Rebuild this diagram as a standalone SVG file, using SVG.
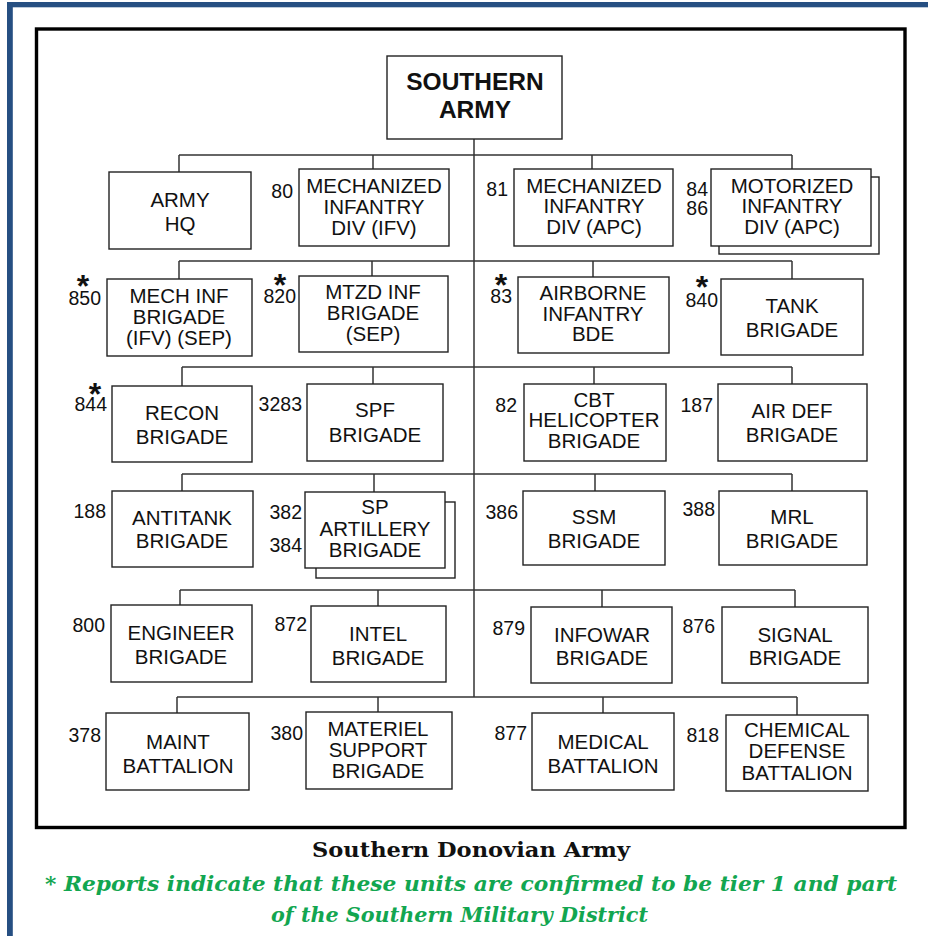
<svg xmlns="http://www.w3.org/2000/svg" width="928" height="936" viewBox="0 0 928 936">
<style>
.box{fill:#fff;stroke:#222;stroke-width:1.4}
.t{font-family:"Liberation Sans",Arial,sans-serif;font-size:20.5px;fill:#111;text-anchor:middle}
.n{font-family:"Liberation Sans",Arial,sans-serif;font-size:19.5px;fill:#111;text-anchor:end}
.s{font-family:"Liberation Sans",Arial,sans-serif;font-size:32px;font-weight:bold;fill:#111;text-anchor:middle}
.c line{stroke:#333;stroke-width:1.5}
</style>
<rect x="0" y="0" width="928" height="936" fill="#fff"/>
<rect x="7" y="2" width="921" height="5.3" fill="#264f82"/>
<rect x="7" y="2" width="5.8" height="934" fill="#264f82"/>
<rect x="36.5" y="29" width="868.5" height="798.5" fill="none" stroke="#000" stroke-width="3.4"/>

<g id="connectors" class="c">
<line x1="474" y1="139" x2="474" y2="697"/>
<line x1="179" y1="155" x2="792" y2="155"/>
<line x1="179" y1="155" x2="179" y2="172"/><line x1="373" y1="155" x2="373" y2="169"/><line x1="592" y1="155" x2="592" y2="169"/><line x1="792" y1="155" x2="792" y2="169"/>
<line x1="179" y1="261" x2="792" y2="261"/>
<line x1="179" y1="261" x2="179" y2="279"/><line x1="372" y1="261" x2="372" y2="276"/><line x1="593" y1="261" x2="593" y2="277"/><line x1="792" y1="261" x2="792" y2="279"/>
<line x1="182" y1="367" x2="792" y2="367"/>
<line x1="182" y1="367" x2="182" y2="386"/><line x1="373" y1="367" x2="373" y2="384"/><line x1="594" y1="367" x2="594" y2="384"/><line x1="792" y1="367" x2="792" y2="384"/>
<line x1="182" y1="474" x2="792" y2="474"/>
<line x1="182" y1="474" x2="182" y2="491"/><line x1="374" y1="474" x2="374" y2="492"/><line x1="595" y1="474" x2="595" y2="491"/><line x1="792" y1="474" x2="792" y2="491"/>
<line x1="180" y1="590" x2="795" y2="590"/>
<line x1="180" y1="590" x2="180" y2="605"/><line x1="378" y1="590" x2="378" y2="606"/><line x1="602" y1="590" x2="602" y2="607"/><line x1="795" y1="590" x2="795" y2="607"/>
<line x1="177" y1="697" x2="797" y2="697"/>
<line x1="177" y1="697" x2="177" y2="713"/><line x1="378" y1="697" x2="378" y2="712"/><line x1="603" y1="697" x2="603" y2="713"/><line x1="797" y1="697" x2="797" y2="715"/>
</g>

<g id="southern-army">
<rect class="box" x="387" y="56" width="175" height="83"/>
<text class="t" x="475" y="90" style="font-weight:bold;font-size:24.5px">SOUTHERN</text>
<text class="t" x="475" y="118" style="font-weight:bold;font-size:24.5px">ARMY</text>
</g>

<g id="army-hq">
<rect class="box" x="109" y="172" width="142" height="77"/>
<text class="t" x="180" y="207">ARMY</text><text class="t" x="180" y="231">HQ</text>
</g>
<g id="mech-inf-div-ifv">
<text class="n" x="293" y="198">80</text>
<rect class="box" x="299" y="169" width="150" height="77"/>
<text class="t" x="374" y="193">MECHANIZED</text><text class="t" x="374" y="214">INFANTRY</text><text class="t" x="374" y="235">DIV (IFV)</text>
</g>
<g id="mech-inf-div-apc">
<text class="n" x="508" y="196">81</text>
<rect class="box" x="514" y="169" width="159" height="77"/>
<text class="t" x="594" y="193">MECHANIZED</text><text class="t" x="594" y="213">INFANTRY</text><text class="t" x="594" y="234">DIV (APC)</text>
</g>
<g id="mot-inf-div-apc">
<text class="n" x="708" y="196">84</text><text class="n" x="708" y="215">86</text>
<rect class="box" x="719" y="177" width="160" height="77"/>
<rect class="box" x="711" y="169" width="160" height="77"/>
<text class="t" x="792" y="193">MOTORIZED</text><text class="t" x="792" y="213">INFANTRY</text><text class="t" x="792" y="234">DIV (APC)</text>
</g>

<g id="mech-inf-bde">
<text class="s" x="83" y="297">*</text>
<text class="n" x="101" y="305">850</text>
<rect class="box" x="107" y="279" width="145" height="77"/>
<text class="t" x="179" y="303">MECH INF</text><text class="t" x="179" y="324">BRIGADE</text><text class="t" x="179" y="345">(IFV) (SEP)</text>
</g>
<g id="mtzd-inf-bde">
<text class="s" x="280" y="296">*</text>
<text class="n" x="296" y="303">820</text>
<rect class="box" x="299" y="276" width="149" height="76"/>
<text class="t" x="373" y="299">MTZD INF</text><text class="t" x="373" y="320">BRIGADE</text><text class="t" x="373" y="341">(SEP)</text>
</g>
<g id="airborne-bde">
<text class="s" x="501" y="296">*</text>
<text class="n" x="512" y="303">83</text>
<rect class="box" x="518" y="277" width="151" height="76"/>
<text class="t" x="593" y="300">AIRBORNE</text><text class="t" x="593" y="321">INFANTRY</text><text class="t" x="593" y="341">BDE</text>
</g>
<g id="tank-bde">
<text class="s" x="702" y="298">*</text>
<text class="n" x="718" y="307">840</text>
<rect class="box" x="721" y="279" width="142" height="76"/>
<text class="t" x="792" y="313">TANK</text><text class="t" x="792" y="337">BRIGADE</text>
</g>

<g id="recon-bde">
<text class="s" x="95" y="405">*</text>
<text class="n" x="107" y="411">844</text>
<rect class="box" x="112" y="386" width="140" height="76"/>
<text class="t" x="182" y="420">RECON</text><text class="t" x="182" y="444">BRIGADE</text>
</g>
<g id="spf-bde">
<text class="n" x="302" y="411">3283</text>
<rect class="box" x="307" y="384" width="136" height="77"/>
<text class="t" x="375" y="417">SPF</text><text class="t" x="375" y="442">BRIGADE</text>
</g>
<g id="cbt-heli-bde">
<text class="n" x="517" y="412">82</text>
<rect class="box" x="524" y="384" width="142" height="77"/>
<text class="t" x="594" y="407">CBT</text><text class="t" x="594" y="427">HELICOPTER</text><text class="t" x="594" y="448">BRIGADE</text>
</g>
<g id="air-def-bde">
<text class="n" x="713" y="412">187</text>
<rect class="box" x="718" y="384" width="149" height="77"/>
<text class="t" x="792" y="418">AIR DEF</text><text class="t" x="792" y="442">BRIGADE</text>
</g>

<g id="antitank-bde">
<text class="n" x="106" y="518">188</text>
<rect class="box" x="112" y="491" width="141" height="76"/>
<text class="t" x="182" y="525">ANTITANK</text><text class="t" x="182" y="548">BRIGADE</text>
</g>
<g id="sp-arty-bde">
<text class="n" x="302" y="519">382</text><text class="n" x="302" y="552">384</text>
<rect class="box" x="316" y="502" width="139" height="76"/>
<rect class="box" x="305" y="492" width="140" height="76"/>
<text class="t" x="375" y="514">SP</text><text class="t" x="375" y="536">ARTILLERY</text><text class="t" x="375" y="557">BRIGADE</text>
</g>
<g id="ssm-bde">
<text class="n" x="518" y="519">386</text>
<rect class="box" x="523" y="491" width="142" height="74"/>
<text class="t" x="594" y="524">SSM</text><text class="t" x="594" y="548">BRIGADE</text>
</g>
<g id="mrl-bde">
<text class="n" x="715" y="516">388</text>
<rect class="box" x="719" y="491" width="148" height="74"/>
<text class="t" x="792" y="524">MRL</text><text class="t" x="792" y="548">BRIGADE</text>
</g>

<g id="engineer-bde">
<text class="n" x="105" y="632">800</text>
<rect class="box" x="111" y="605" width="141" height="77"/>
<text class="t" x="181" y="640">ENGINEER</text><text class="t" x="181" y="664">BRIGADE</text>
</g>
<g id="intel-bde">
<text class="n" x="307" y="631">872</text>
<rect class="box" x="311" y="606" width="135" height="76"/>
<text class="t" x="378" y="641">INTEL</text><text class="t" x="378" y="665">BRIGADE</text>
</g>
<g id="infowar-bde">
<text class="n" x="525" y="635">879</text>
<rect class="box" x="531" y="607" width="141" height="76"/>
<text class="t" x="602" y="642">INFOWAR</text><text class="t" x="602" y="665">BRIGADE</text>
</g>
<g id="signal-bde">
<text class="n" x="715" y="633">876</text>
<rect class="box" x="722" y="607" width="146" height="76"/>
<text class="t" x="795" y="642">SIGNAL</text><text class="t" x="795" y="665">BRIGADE</text>
</g>

<g id="maint-bn">
<text class="n" x="101" y="742">378</text>
<rect class="box" x="106" y="713" width="143" height="77"/>
<text class="t" x="178" y="749">MAINT</text><text class="t" x="178" y="773">BATTALION</text>
</g>
<g id="materiel-support-bde">
<text class="n" x="303" y="740">380</text>
<rect class="box" x="306" y="712" width="146" height="77"/>
<text class="t" x="378" y="736">MATERIEL</text><text class="t" x="378" y="757">SUPPORT</text><text class="t" x="378" y="778">BRIGADE</text>
</g>
<g id="medical-bn">
<text class="n" x="527" y="740">877</text>
<rect class="box" x="532" y="713" width="142" height="77"/>
<text class="t" x="603" y="749">MEDICAL</text><text class="t" x="603" y="773">BATTALION</text>
</g>
<g id="chem-def-bn">
<text class="n" x="719" y="742">818</text>
<rect class="box" x="726" y="715" width="142" height="76"/>
<text class="t" x="797" y="737">CHEMICAL</text><text class="t" x="797" y="758">DEFENSE</text><text class="t" x="797" y="780">BATTALION</text>
</g>

<g id="caption" font-family="'DejaVu Serif','Liberation Serif',serif" font-weight="bold">
<text x="312" y="857" font-size="20.5" fill="#111" textLength="318" lengthAdjust="spacingAndGlyphs">Southern Donovian Army</text>
<text x="45" y="891" font-size="21" font-style="italic" fill="#12a650" textLength="852" lengthAdjust="spacingAndGlyphs">* Reports indicate that these units are confirmed to be tier 1 and part</text>
<text x="271" y="922" font-size="21" font-style="italic" fill="#12a650" textLength="377" lengthAdjust="spacingAndGlyphs">of the Southern Military District</text>
</g>
</svg>
